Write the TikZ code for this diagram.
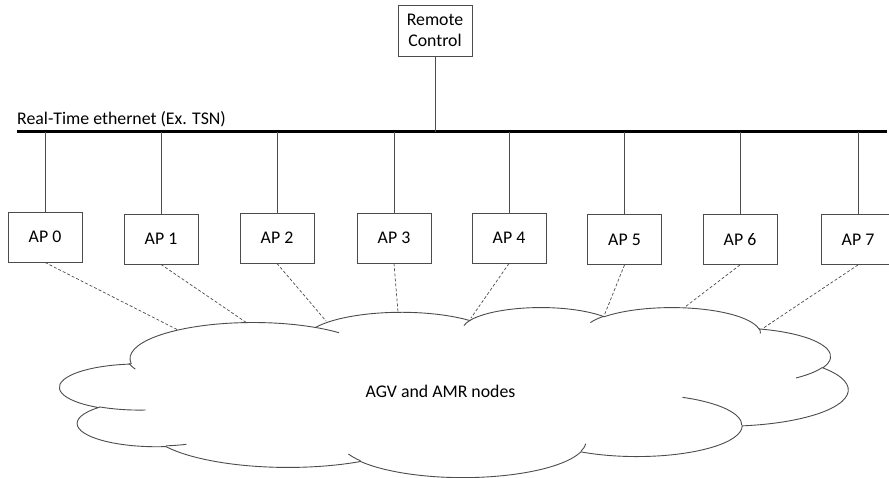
\documentclass[tikz,border=0pt]{standalone}
\usepackage{fontspec}
\setmainfont{Carlito}
% one arc of the cloud outline: x radius, y radius, start and sweep
% given as true (visual) angles, turned here into ellipse parameters
\newcommand\cloudarc[4]{arc[x radius=#1, y radius=#2,
  start angle={atan2((#1)*sin(#3),(#2)*cos(#3))},
  delta angle={mod(atan2((#1)*sin((#3)+(#4)),(#2)*cos((#3)+(#4)))-atan2((#1)*sin(#3),(#2)*cos(#3))+720,360)}]}
\begin{document}
\begin{tikzpicture}[x=1pt,y=-1pt,
  txt/.style={font=\fontsize{17.8}{20.7}\selectfont, text=black},
  apbox/.style={txt, draw=black!70, line width=0.9pt, fill=white,
    minimum width=74pt, minimum height=50pt, inner sep=0pt, align=center},
  link/.style={draw=black!70, line width=0.9pt},
  bus/.style={draw=black, line width=3pt},
  radio/.style={draw=black!70, line width=0.7pt, dash pattern=on 3pt off 2pt},
  cloudline/.style={draw=black!70, line width=0.9pt, fill=white}]
\useasboundingbox (0,0) rectangle (889,478);

% cloud of mobile nodes
\begin{scope}[shift={(60,307)}, x=0.182407pt, y=-0.0393519pt]
  \path[cloudline] (390,1437)
    \cloudarc{675.3}{919.0}{-190.4875}{123.7805}
    \cloudarc{533.3}{726.7}{-144.1024}{89.9452}
    \cloudarc{436.5}{594.5}{-145.8079}{99.7230}
    \cloudarc{485.7}{659.5}{-130.9861}{117.2417}
    \cloudarc{533.3}{727.3}{-78.7089}{109.0269}
    \cloudarc{677.5}{922.0}{-46.2673}{130.2690}
    \cloudarc{578.5}{786.7}{0.6250}{114.0333}
    \cloudarc{675.2}{921.5}{22.4516}{115.1726}
    \cloudarc{772.0}{1054.3}{66.2426}{75.7110}
    \cloudarc{436.0}{591.8}{-274.9421}{146.7356}
    \cloudarc{434.5}{594.5}{-246.8285}{152.5189}
    -- cycle;
  \path[cloudline, fill=none]
    (469.3,2617.7) \cloudarc{434.5}{594.5}{86.7420}{26.4295}
    (692.8,3489.9) \cloudarc{436.0}{591.8}{73.6105}{11.4475}
    (1647.8,3909.0) \cloudarc{675.2}{921.5}{137.6242}{14.0811}
    (2882.7,3475.1) \cloudarc{675.2}{921.5}{6.4533}{15.9984}
    (3412.9,2295.4) \cloudarc{578.5}{786.7}{-70.2924}{70.9174}
    (4179.8,1535.4) \cloudarc{533.3}{727.3}{30.3180}{27.7515}
    (3832.4,542.6) \cloudarc{485.7}{659.5}{-13.7443}{14.8589}
    (2907.8,395.2) \cloudarc{485.7}{659.5}{-149.1815}{18.1954}
    (2214.1,472.0) \cloudarc{436.5}{594.5}{-163.4943}{17.6864}
    (1400.0,519.2) \cloudarc{675.3}{919.0}{-66.7070}{12.3194}
    (412.7,1578.9) \cloudarc{675.3}{919.0}{150.0811}{11.8653};
\end{scope}
\node[txt, anchor=base] (cloudtxt) at (440.5,397) {AGV and AMR nodes};

% wired backbone
\coordinate (busL) at (17,132);
\coordinate (busR) at (887,132);
\draw[bus] (busL) -- (busR);
\node[txt, anchor=base west, inner sep=0pt] (bustxt) at (17,125) {Real-Time ethernet (Ex. TSN)};

\node[apbox, minimum height=51pt] (rc) at (435,30.5) {Remote\\Control};
\draw[link] (rc.south) -- (rc.south |- busL);

% access points
\node[apbox] (ap0) at (45,237) {AP 0};
\node[apbox] (ap1) at (161,239) {AP 1};
\node[apbox] (ap2) at (277,238) {AP 2};
\node[apbox] (ap3) at (394,238) {AP 3};
\node[apbox] (ap4) at (509,238) {AP 4};
\node[apbox] (ap5) at (624.5,239.5) {AP 5};
\node[apbox] (ap6) at (740,239.5) {AP 6};
\node[apbox] (ap7) at (858,239.5) {AP 7};

% where each radio link meets the cloud
\coordinate (c0) at (178,330);
\coordinate (c1) at (247,323);
\coordinate (c2) at (326,321);
\coordinate (c3) at (398,312);
\coordinate (c4) at (471,318);
\coordinate (c5) at (604,316);
\coordinate (c6) at (685,307);
\coordinate (c7) at (762,329);

\foreach \i in {0,...,7} {
  \draw[link] (ap\i.north) -- (ap\i.north |- busL);
  \draw[radio] (ap\i.south) -- (c\i);
}
\end{tikzpicture}
\end{document}
